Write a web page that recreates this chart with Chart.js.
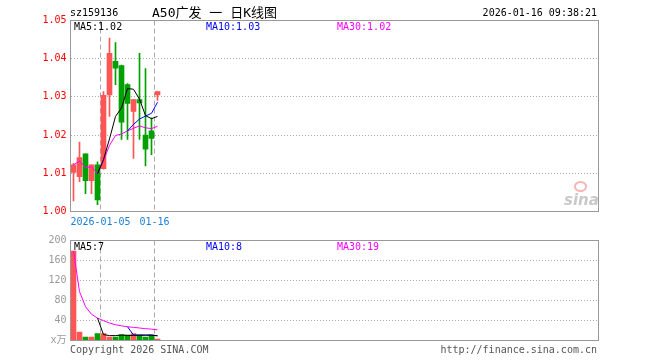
<!DOCTYPE html>
<html>
<head>
<meta charset="utf-8">
<script src="https://cdn.jsdelivr.net/npm/chart.js@4"></script>
<style>
  html, body { margin: 0; padding: 0; background: #fff; }
  #wrap { position: relative; width: 660px; height: 360px; overflow: hidden; }
  canvas { position: absolute; left: 0; top: 0; }
  .t { position: absolute; font: 10px "DejaVu Sans Mono", monospace; line-height: 10px; white-space: pre; color: #000; }
  .cn { font-family: "DejaVu Sans Mono", "Noto Sans CJK SC", monospace; }
</style>
</head>
<body>
<div id="wrap">
  <canvas id="kline" width="660" height="360"></canvas>
  <canvas id="vol" width="660" height="360"></canvas>

  <div class="t" style="left:70px;top:8px">sz159136</div>
  <div class="t cn" style="left:152px;top:6px;font-size:13px;line-height:14px">A50广发 一 日K线图</div>
  <div class="t" style="right:63px;top:8px">2026-01-16 09:38:21</div>

  <div class="t" style="left:74px;top:22px">MA5:1.02</div>
  <div class="t" style="left:206px;top:22px;color:#00f">MA10:1.03</div>
  <div class="t" style="left:337px;top:22px;color:#f0f">MA30:1.02</div>

  <div class="t" style="left:74px;top:242px">MA5:7</div>
  <div class="t" style="left:206px;top:242px;color:#00f">MA10:8</div>
  <div class="t" style="left:337px;top:242px;color:#f0f">MA30:19</div>

  <div style="position:absolute;left:574px;top:181px;width:9px;height:7px;border:2px solid #f7b4b4;border-radius:50%"></div>
  <div class="t" style="left:564px;top:193px;font:italic bold 15px 'DejaVu Sans',sans-serif;line-height:14px;color:#c9c9c9">sina</div>

  <div class="t" style="left:70px;top:345px;color:#555">Copyright 2026 SINA.COM</div>
  <div class="t" style="right:63px;top:345px;color:#555">http://finance.sina.com.cn</div>
</div>

<script>
// trading days shown (15 of 88 slots filled)
const dates = ["2025-12-25", "2025-12-26", "2025-12-29", "2025-12-30", "2025-12-31",
  "2026-01-05", "2026-01-06", "2026-01-07", "2026-01-08", "2026-01-09",
  "2026-01-12", "2026-01-13", "2026-01-14", "2026-01-15", "2026-01-16"];
const SLOTS = 88;

const opens  = [1.0102, 1.0091, 1.0151, 1.0081, 1.0122, 1.0112, 1.0305, 1.0393, 1.0382, 1.0332, 1.0262, 1.0293, 1.0200, 1.0211, 1.0305];
const closes = [1.0122, 1.0141, 1.0081, 1.0122, 1.0030, 1.0304, 1.0414, 1.0375, 1.0234, 1.0283, 1.0293, 1.0284, 1.0163, 1.0191, 1.0314];
const highs  = [1.0126, 1.0182, 1.0151, 1.0122, 1.0130, 1.0314, 1.0454, 1.0442, 1.0383, 1.0335, 1.0293, 1.0414, 1.0374, 1.0245, 1.0314];
const lows   = [1.0028, 1.0078, 1.0047, 1.0047, 1.0018, 1.0111, 1.0249, 1.0332, 1.0189, 1.0189, 1.0139, 1.0189, 1.0119, 1.0149, 1.0291];

const ma5  = [null, null, null, null, 1.0099, 1.0136, 1.0190, 1.0249, 1.0271, 1.0322, 1.0320, 1.0294, 1.0251, 1.0243, 1.0249];
const ma10 = [null, null, null, null, null, null, null, null, null, 1.0211, 1.0228, 1.0242, 1.0250, 1.0257, 1.0286];
const ma30 = [1.0122, 1.0132, 1.0115, 1.0117, 1.0099, 1.0133, 1.0173, 1.0199, 1.0203, 1.0211, 1.0218, 1.0224, 1.0219, 1.0217, 1.0223];

// volume in 万
const volumes = [179, 17, 7, 7, 14, 14, 7, 7, 12, 11, 14, 11, 7, 11, 3];
const volMa5  = [null, null, null, null, 44.8, 11.8, 9.8, 9.8, 10.8, 10.2, 10.2, 11, 11, 10.8, 9.2];
const volMa10 = [null, null, null, null, null, null, null, null, null, 27.5, 11, 10.4, 10.4, 10.8, 9.7];
const volMa30 = [179, 98, 67.7, 52.5, 44.8, 39.7, 35, 31.5, 29.3, 27.5, 26.3, 25, 23.6, 22.7, 21.4];

const markDates = ["2026-01-05", "2026-01-16"];
const markText = ["2026-01-05", "01-16"];

const priceTicks = [1.00, 1.01, 1.02, 1.03, 1.04, 1.05];
const volTicks = [0, 40, 80, 120, 160, 200];

const UP = "#ff5555", DOWN = "#00a000";
const MONO = "'DejaVu Sans Mono', 'Noto Sans CJK SC', monospace";

const slots = dates.concat(new Array(SLOTS - dates.length).fill(""));
const candleColors = closes.map((c, i) => c >= opens[i] ? UP : DOWN);

const framePlugin = {
  id: "frame",
  afterDraw(chart) {
    const { ctx, chartArea: a } = chart;
    ctx.save();
    ctx.strokeStyle = "#999";
    ctx.lineWidth = 1;
    ctx.strokeRect(Math.floor(a.left) + 0.5, Math.floor(a.top) + 0.5,
      Math.round(a.right - a.left), Math.round(a.bottom - a.top));
    ctx.restore();
  }
};

function markGrid(ctx) {
  return markDates.includes(slots[ctx.index]) ? "#aaa" : "rgba(0,0,0,0)";
}

function xAxis(showLabels) {
  return {
    type: "category",
    offset: true,
    grid: { offset: true, drawTicks: false, color: markGrid, lineWidth: 1, borderDash: [5, 3] },
    border: { display: false, dash: [5, 3] },
    ticks: {
      display: showLabels,
      autoSkip: false, maxRotation: 0, minRotation: 0,
      padding: 5, labelOffset: -3,
      color: "#1a7fd6",
      font: { family: MONO, size: 10 },
      callback: (v, i) => {
        const k = markDates.indexOf(slots[i]);
        return k >= 0 ? markText[k] : "";
      }
    },
    afterFit: s => { s.height = showLabels ? 20 : 0; }
  };
}

function yAxis(ticks, color, fmt) {
  return {
    min: ticks[0], max: ticks[ticks.length - 1],
    afterBuildTicks: s => { s.ticks = ticks.map(v => ({ value: v })); },
    grid: {
      drawTicks: false,
      color: c => (c.index === 0 || c.index === ticks.length - 1) ? "rgba(0,0,0,0)" : "#aaa",
      borderDash: [1, 2]
    },
    border: { display: false, dash: [1, 2] },
    ticks: { padding: 4, color: color, font: { family: MONO, size: 10 }, callback: fmt },
    afterFit: s => { s.width = 70.5; }
  };
}

function maLine(data, color) {
  return {
    type: "line", data: data, borderColor: color, borderWidth: 1,
    pointRadius: 0, tension: 0, fill: false, order: 0
  };
}

new Chart(document.getElementById("kline"), {
  type: "bar",
  data: {
    labels: slots,
    datasets: [
      maLine(ma5, "#000"),
      maLine(ma10, "#0000ff"),
      maLine(ma30, "#ff00ff"),
      {
        data: opens.map((o, i) => [o, closes[i]]),
        backgroundColor: candleColors, barThickness: 5, grouped: false,
        minBarLength: 1, order: 1
      },
      {
        data: lows.map((l, i) => [l, highs[i]]),
        backgroundColor: candleColors, barThickness: 1, grouped: false, order: 2
      }
    ]
  },
  options: {
    responsive: false, animation: false,
    layout: { padding: { top: 20.5, right: 61.5, bottom: 128.5, left: 0 } },
    plugins: { legend: { display: false }, tooltip: { enabled: false } },
    scales: {
      x: xAxis(true),
      y: yAxis(priceTicks, "#ff0000", v => Number(v).toFixed(2))
    }
  },
  plugins: [framePlugin]
});

new Chart(document.getElementById("vol"), {
  type: "bar",
  data: {
    labels: slots,
    datasets: [
      maLine(volMa5, "#000"),
      maLine(volMa10, "#0000ff"),
      maLine(volMa30, "#ff00ff"),
      {
        data: volumes, backgroundColor: candleColors,
        barThickness: 5, grouped: false, order: 1
      }
    ]
  },
  options: {
    responsive: false, animation: false,
    layout: { padding: { top: 240.5, right: 61.5, bottom: 19.5, left: 0 } },
    plugins: { legend: { display: false }, tooltip: { enabled: false } },
    scales: {
      x: xAxis(false),
      y: yAxis(volTicks, "#999", v => v === 0 ? "x万" : String(v))
    }
  },
  plugins: [framePlugin]
});
</script>
</body>
</html>
